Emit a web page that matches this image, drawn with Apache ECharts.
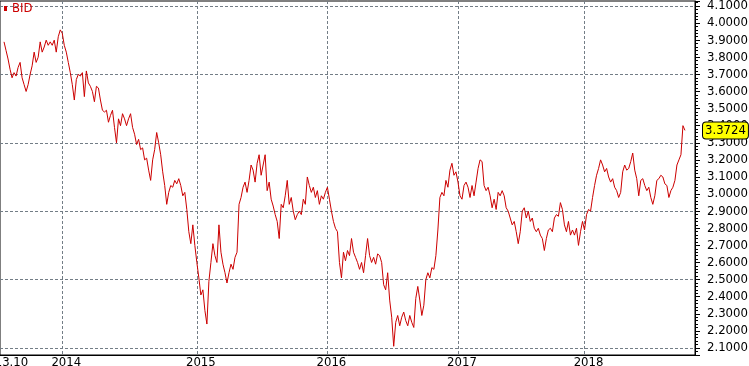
<!DOCTYPE html>
<html><head><meta charset="utf-8">
<script src="https://cdn.jsdelivr.net/npm/echarts@6/dist/echarts.min.js"></script>
<style>html,body{margin:0;padding:0;background:#fff}#c{width:749px;height:366px}</style>
</head><body><div id="c"></div>
<script>
const seriesName = 'BID';
// one value per step along the x axis (nulls before the series starts)
const bid = [
 null,null,
 3.89,3.84,3.79,3.73,3.68,3.71,3.69,3.74,3.77,3.68,
 3.64,3.60,3.64,3.70,3.75,3.83,3.77,3.80,3.89,3.83,
 3.86,3.90,3.87,3.89,3.87,3.90,3.83,3.92,3.96,3.94,
 3.87,3.83,3.77,3.71,3.64,3.55,3.67,3.70,3.69,3.71,
 3.57,3.72,3.65,3.63,3.60,3.54,3.63,3.62,3.55,3.49,
 3.48,3.49,3.42,3.46,3.49,3.39,3.30,3.44,3.40,3.47,
 3.44,3.40,3.44,3.47,3.39,3.35,3.29,3.32,3.26,3.27,
 3.20,3.21,3.14,3.08,3.20,3.26,3.36,3.30,3.23,3.13,
 3.05,2.94,3.01,3.05,3.04,3.08,3.06,3.09,3.05,2.99,
 3.01,2.91,2.78,2.71,2.82,2.70,2.60,2.51,2.41,2.44,
 2.32,2.24,2.49,2.60,2.71,2.64,2.60,2.82,2.66,2.59,
 2.54,2.48,2.54,2.59,2.56,2.63,2.66,2.94,2.98,3.04,
 3.07,3.01,3.08,3.17,3.14,3.07,3.18,3.23,3.11,3.17,
 3.23,3.02,3.07,2.97,2.93,2.88,2.84,2.74,2.94,2.92,
 2.99,3.08,2.94,2.98,2.90,2.85,2.88,2.90,2.88,2.97,
 2.94,3.10,3.05,3.01,3.04,2.98,3.02,2.94,2.99,2.97,
 3.01,3.04,2.97,2.90,2.84,2.80,2.78,2.60,2.51,2.66,
 2.61,2.67,2.64,2.74,2.66,2.63,2.60,2.56,2.60,2.54,
 2.64,2.74,2.64,2.60,2.63,2.59,2.65,2.64,2.60,2.47,
 2.44,2.54,2.38,2.28,2.11,2.25,2.29,2.23,2.28,2.31,
 2.26,2.23,2.29,2.25,2.22,2.39,2.46,2.38,2.29,2.35,
 2.50,2.54,2.51,2.57,2.56,2.64,2.79,2.98,3.01,2.99,
 3.08,3.04,3.14,3.18,3.11,3.13,3.07,2.99,2.97,3.05,
 3.07,3.04,2.98,3.05,2.99,3.07,3.15,3.20,3.19,3.05,
 3.02,3.04,2.99,2.92,2.97,2.91,3.01,2.99,3.02,2.99,
 2.92,2.90,2.86,2.82,2.84,2.78,2.71,2.78,2.90,2.92,
 2.86,2.90,2.84,2.86,2.80,2.78,2.80,2.76,2.74,2.67,
 2.74,2.79,2.80,2.78,2.86,2.88,2.87,2.95,2.91,2.82,
 2.78,2.84,2.76,2.79,2.76,2.80,2.70,2.78,2.84,2.79,
 2.88,2.91,2.90,2.98,3.05,3.11,3.15,3.20,3.17,3.13,
 3.15,3.10,3.07,3.09,3.04,3.02,2.98,3.01,3.13,3.17,
 3.14,3.15,3.19,3.24,3.14,3.09,2.99,3.08,3.09,3.05,
 3.02,3.04,2.98,2.94,2.99,3.08,3.09,3.11,3.10,3.06,
 3.05,2.98,3.02,3.04,3.08,3.17,3.20,3.23,3.40,3.3724
];
const lastValue = 3.3724;
const categoryCount = 347;
const xTickIndex = [0, 31, 98, 163, 228, 291];
const xTickText = ['2013.10', '2014', '2015', '2016', '2017', '2018'];
const gridValues = [4.1, 3.7, 3.3, 2.9, 2.5, 2.1];
const yMin = 2.059, yMax = 4.129;

const FONT = "'Liberation Sans Narrow', 'DejaVu Sans Condensed', sans-serif";
const RED = '#cc0000';
const GRIDC = '#737d86';

const categories = [];
for (let i = 0; i < categoryCount; i++) categories.push(String(i));
const tickMap = {};
xTickIndex.forEach((ix, j) => { tickMap[ix] = xTickText[j]; });

const chart = echarts.init(document.getElementById('c'), null, {renderer: 'canvas'});
chart.setOption({
  animation: false,
  backgroundColor: '#fff',
  legend: {
    data: [seriesName], left: 4, top: 2, padding: 0, itemGap: 0,
    icon: 'rect', itemWidth: 3, itemHeight: 5,
    textStyle: {color: RED, fontFamily: FONT, fontSize: 13},
    selectedMode: false
  },
  grid: {left: 0, right: 54, top: 1, bottom: 11, show: true, borderColor: '#000', borderWidth: 1,
         containLabel: false, outerBoundsMode: 'none'},
  xAxis: {
    type: 'category', data: categories, boundaryGap: false,
    axisLine: {show: true, lineStyle: {color: '#000', width: 1}},
    axisTick: {show: false},
    axisLabel: {
      interval: (i) => tickMap[i] !== undefined,
      formatter: (v) => tickMap[+v] || '',
      margin: 1, padding: [0, 0, 0, 8],
      color: '#000', fontFamily: FONT, fontSize: 13
    },
    splitLine: {show: true, interval: (i) => tickMap[i] !== undefined && i !== 0,
      lineStyle: {color: GRIDC, type: [3, 2], width: 1}}
  },
  yAxis: {
    type: 'value', position: 'right', min: yMin, max: yMax,
    splitNumber: 20, minInterval: 0.1, maxInterval: 0.1,
    axisLine: {show: true, lineStyle: {color: '#000', width: 1}},
    axisTick: {show: true, inside: false, length: 5, lineStyle: {color: '#000'}},
    minorTick: {show: true, splitNumber: 5, length: 3, lineStyle: {color: '#000'}},
    splitLine: {show: false},
    axisLabel: {
      formatter: (v) => v.toFixed(4), showMinLabel: false, showMaxLabel: false,
      margin: 12, color: '#000', fontFamily: FONT, fontSize: 13
    },
    axisPointer: {
      show: true, type: 'line', value: lastValue, status: 'show', snap: false,
      triggerTooltip: false,
      lineStyle: {opacity: 0, width: 0},
      handle: {show: false},
      label: {
        show: true, formatter: (p) => Number(p.value).toFixed(4),
        backgroundColor: '#ffff00', borderColor: '#000', borderWidth: 1,
        padding: [2, 2, 1, 2], color: '#000', fontFamily: FONT, fontSize: 13, margin: 8
      }
    }
  },
  series: [{
    name: seriesName, type: 'line', data: bid, showSymbol: false, symbol: 'none',
    lineStyle: {color: RED, width: 1}, itemStyle: {color: RED}, z: 3,
    connectNulls: false,
    markLine: {
      silent: true, z: 1, symbol: ['none', 'none'], label: {show: false},
      lineStyle: {color: GRIDC, type: [3, 2], width: 1},
      emphasis: {disabled: true},
      data: gridValues.map(v => ({yAxis: v}))
    }
  }]
});
</script>
</body></html>
